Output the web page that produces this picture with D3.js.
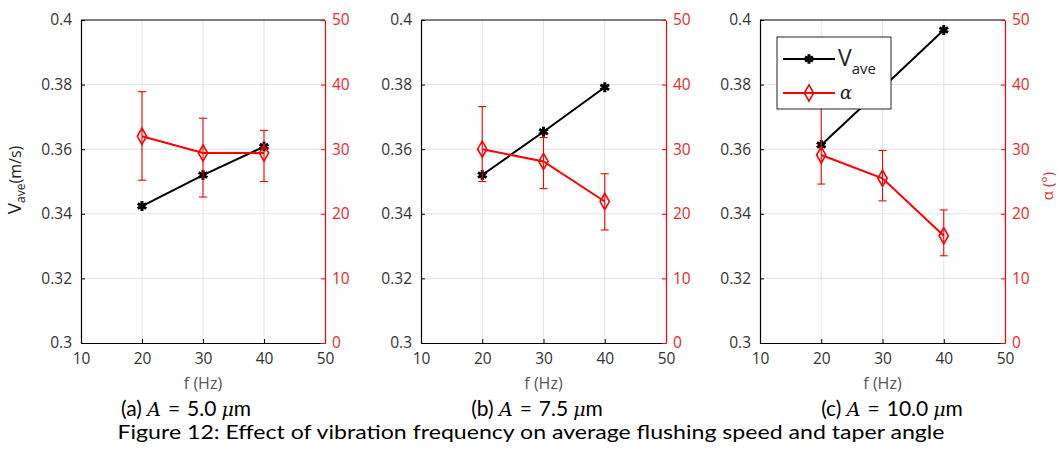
<html>
<head>
<meta charset="utf-8">
<title>Figure 12</title>
<script src="https://d3js.org/d3.v7.min.js"></script>
<style>
  body { margin: 0; background: #fff; }
  text { font-family: "Open Sans", sans-serif; }
</style>
</head>
<body>
<svg width="1063" height="450"></svg>
<script>
// data
var freq = [20, 30, 40];
var xTicks = [10, 20, 30, 40, 50];
var vTicks = [0.3, 0.32, 0.34, 0.36, 0.38, 0.4];
var vTickLabels = ["0.3", "0.32", "0.34", "0.36", "0.38", "0.4"];
var aTicks = [0, 10, 20, 30, 40, 50];

var vave5 = [0.3424, 0.352, 0.3608];
var alpha5 = [32.0, 29.4, 29.4];
var alphaLo5 = [25.2, 22.6, 25.0];
var alphaHi5 = [38.9, 34.8, 32.9];

var vave75 = [0.352, 0.3654, 0.3792];
var alpha75 = [30.0, 28.1, 21.9];
var alphaLo75 = [25.0, 23.9, 17.5];
var alphaHi75 = [36.6, 31.8, 26.2];

var vave10 = [0.3613, 0.379, 0.3969];
var alpha10 = [29.1, 25.5, 16.6];
var alphaLo10 = [24.6, 22.0, 13.5];
var alphaHi10 = [38.0, 29.8, 20.6];

var captions = ["(a)", "(b)", "(c)"];
var amplitudes = ["5.0", "7.5", "10.0"];

var panels = [
  {x0: 81, x1: 325, vave: vave5, alpha: alpha5, lo: alphaLo5, hi: alphaHi5, cx: 186},
  {x0: 421, x1: 666, vave: vave75, alpha: alpha75, lo: alphaLo75, hi: alphaHi75, cx: 537},
  {x0: 760, x1: 1005, vave: vave10, alpha: alpha10, lo: alphaLo10, hi: alphaHi10, cx: 892}
];

var svg = d3.select("svg");
var plotTop = 20, plotBottom = 343;
var red = "#f00", redText = "#e8292b", grey = "#333";
var tickFont = "15.5px";

panels.forEach(function(p, i) {
  var x = d3.scaleLinear().domain([10, 50]).range([p.x0, p.x1]);
  var yV = d3.scaleLinear().domain([0.3, 0.4]).range([plotBottom, plotTop]);
  var yA = d3.scaleLinear().domain([0, 50]).range([plotBottom, plotTop]);
  var g = svg.append("g");

  // grid
  g.append("g").selectAll("line").data(xTicks.slice(1, -1)).enter().append("line")
    .attr("x1", d => x(d)).attr("x2", d => x(d)).attr("y1", plotTop).attr("y2", plotBottom)
    .attr("stroke", "#e3e3e3").attr("stroke-width", 1);
  g.append("g").selectAll("line").data(vTicks.slice(1, -1)).enter().append("line")
    .attr("x1", p.x0).attr("x2", p.x1).attr("y1", d => yV(d)).attr("y2", d => yV(d))
    .attr("stroke", "#e3e3e3").attr("stroke-width", 1);

  // axes
  g.append("g").attr("transform", "translate(0," + plotBottom + ")")
    .call(d3.axisBottom(x).tickValues(xTicks).tickSizeInner(-4).tickSizeOuter(0).tickPadding(10))
    .call(a => a.select(".domain").attr("stroke", "#000").attr("stroke-width", 1.2))
    .call(a => a.selectAll("line").attr("stroke", "#000"))
    .call(a => a.selectAll("text").attr("fill", grey).style("font-size", tickFont).style("font-family", "Open Sans"));

  g.append("g").attr("transform", "translate(" + p.x0 + ",0)")
    .call(d3.axisLeft(yV).tickValues(vTicks).tickFormat((d, j) => vTickLabels[j]).tickSizeInner(-4).tickSizeOuter(0).tickPadding(9))
    .call(a => a.select(".domain").attr("stroke", "#000").attr("stroke-width", 1.2))
    .call(a => a.selectAll("line").attr("stroke", "#000"))
    .call(a => a.selectAll("text").attr("fill", grey).style("font-size", tickFont).style("font-family", "Open Sans"));

  g.append("line").attr("x1", p.x0).attr("x2", p.x1).attr("y1", plotTop).attr("y2", plotTop)
    .attr("stroke", "#000").attr("stroke-width", 1.2);

  g.append("g").attr("transform", "translate(" + p.x1 + ",0)")
    .call(d3.axisRight(yA).tickValues(aTicks).tickSizeInner(-4).tickSizeOuter(0).tickPadding(7))
    .call(a => a.select(".domain").attr("stroke", red).attr("stroke-width", 1.2))
    .call(a => a.selectAll("line").attr("stroke", red))
    .call(a => a.selectAll("text").attr("fill", redText).style("font-size", tickFont).style("font-family", "Open Sans"));

  // x label
  g.append("text").attr("x", x(30)).attr("y", 389).attr("text-anchor", "middle")
    .attr("fill", "#555").style("font-size", "16px").text("f (Hz)");

  // vave line
  var vLine = d3.line().x((d, j) => x(freq[j])).y(d => yV(d));
  g.append("path").datum(p.vave).attr("d", vLine).attr("fill", "none")
    .attr("stroke", "#000").attr("stroke-width", 2);
  g.append("g").selectAll("path").data(p.vave).enter().append("path")
    .attr("transform", (d, j) => "translate(" + x(freq[j]) + "," + yV(d) + ")")
    .attr("d", d3.symbol(d3.symbolAsterisk, 70))
    .attr("fill", "none").attr("stroke", "#000").attr("stroke-width", 3);

  // error bars
  var eb = g.append("g").attr("stroke", red).attr("stroke-width", 1.1);
  p.alpha.forEach(function(d, j) {
    var cx = x(freq[j]);
    eb.append("line").attr("x1", cx).attr("x2", cx).attr("y1", yA(p.lo[j])).attr("y2", yA(p.hi[j]));
    eb.append("line").attr("x1", cx - 4).attr("x2", cx + 4).attr("y1", yA(p.lo[j])).attr("y2", yA(p.lo[j]));
    eb.append("line").attr("x1", cx - 4).attr("x2", cx + 4).attr("y1", yA(p.hi[j])).attr("y2", yA(p.hi[j]));
  });

  var aLine = d3.line().x((d, j) => x(freq[j])).y(d => yA(d));
  g.append("path").datum(p.alpha).attr("d", aLine).attr("fill", "none")
    .attr("stroke", red).attr("stroke-width", 2);
  g.append("g").selectAll("path").data(p.alpha).enter().append("path")
    .attr("transform", (d, j) => "translate(" + x(freq[j]) + "," + yA(d) + ")")
    .attr("d", d3.symbol(d3.symbolDiamond, 75))
    .attr("fill", "none").attr("stroke", red).attr("stroke-width", 1.6);

  // caption
  var cap = svg.append("text").attr("x", p.cx).attr("y", 416).attr("text-anchor", "middle")
    .attr("fill", "#000").style("font-size", "21px").style("font-family", "Lato");
  cap.append("tspan").text(captions[i] + " ");
  cap.append("tspan").style("font-family", "DejaVu Serif").style("font-style", "italic").style("font-size", "19px").text("A");
  cap.append("tspan").attr("dx", 7).text("=");
  cap.append("tspan").attr("dx", 7).text(amplitudes[i]);
  cap.append("tspan").attr("dx", 5).style("font-family", "DejaVu Serif").style("font-style", "italic").style("font-size", "19px").text("μ");
  cap.append("tspan").text("m");

  if (i === 0) {
    var yl = svg.append("text").attr("transform", "translate(21,180) rotate(-90)")
      .attr("text-anchor", "middle").attr("fill", "#222").style("font-size", "16px");
    yl.append("tspan").style("font-size", "19px").text("V");
    yl.append("tspan").attr("dy", 4).style("font-size", "12px").text("ave");
    yl.append("tspan").attr("dy", -4).text("(m/s)");
  }
  if (i === 2) {
    svg.append("text").attr("transform", "translate(1053,186) rotate(-90)")
      .attr("text-anchor", "middle").attr("fill", redText).style("font-size", "15px").text("α (°)");

    // legend
    var lg = svg.append("g");
    lg.append("rect").attr("x", 777).attr("y", 37).attr("width", 114).attr("height", 72)
      .attr("fill", "#fff").attr("stroke", "#222").attr("stroke-width", 1);
    lg.append("line").attr("x1", 783).attr("x2", 835).attr("y1", 59).attr("y2", 59)
      .attr("stroke", "#000").attr("stroke-width", 2);
    lg.append("path").attr("transform", "translate(809,59)")
      .attr("d", d3.symbol(d3.symbolAsterisk, 60)).attr("fill", "none").attr("stroke", "#000").attr("stroke-width", 3);
    lg.append("line").attr("x1", 783).attr("x2", 835).attr("y1", 93).attr("y2", 93)
      .attr("stroke", red).attr("stroke-width", 2);
    lg.append("path").attr("transform", "translate(809,93)")
      .attr("d", d3.symbol(d3.symbolDiamond, 75)).attr("fill", "none").attr("stroke", red).attr("stroke-width", 1.6);
    var lt = lg.append("text").attr("x", 838).attr("y", 66).attr("fill", "#222").style("font-size", "23px");
    lt.append("tspan").text("V");
    lt.append("tspan").attr("dy", 8).style("font-size", "15px").text("ave");
    lg.append("text").attr("x", 840).attr("y", 99).attr("fill", "#222")
      .style("font-family", "DejaVu Serif").style("font-style", "italic").style("font-size", "18px").text("α");
  }
});

svg.append("text").attr("x", 531).attr("y", 439).attr("text-anchor", "middle")
  .attr("textLength", 827).attr("lengthAdjust", "spacingAndGlyphs")
  .attr("fill", "#000").style("font-size", "19px").style("font-family", "Lato")
  .text("Figure 12: Effect of vibration frequency on average flushing speed and taper angle");
</script>
</body>
</html>
